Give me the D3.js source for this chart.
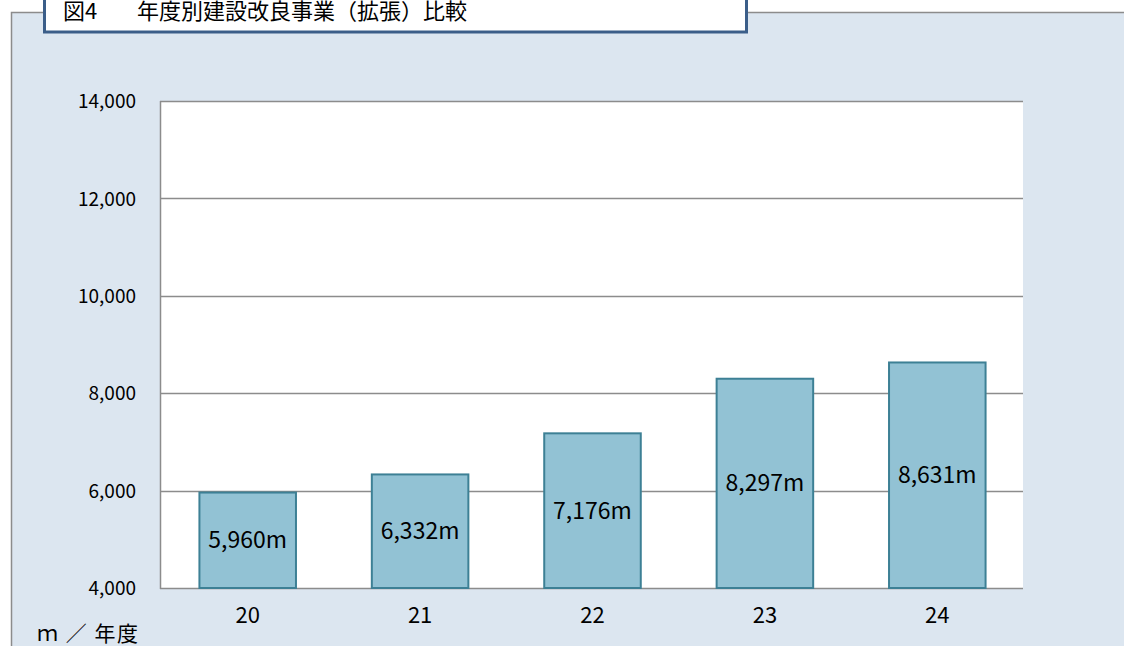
<!DOCTYPE html>
<html>
<head>
    <meta charset="utf-8">
    <script src="https://cdn.jsdelivr.net/npm/d3@7/dist/d3.min.js"></script>
    <style>
        body { margin: 0; background: #ffffff; }
        text { font-family: "Noto Sans CJK JP", "Noto Sans", sans-serif; fill: #000; }
    </style>
</head>
<body>
<div id="viz"></div>
<script type="text/javascript">

    // data
    var years = ["20", "21", "22", "23", "24"];
    var lengths = [5960, 6332, 7176, 8297, 8631];
    var yTicks = [4000, 6000, 8000, 10000, 12000, 14000];
    var title = "年度別建設改良事業（拡張）比較";
    var figNo = "図4";
    var unitLabel = "ｍ ／ 年度";

    var W = 1124, H = 646;
    var plot = { left: 160, right: 1023, top: 101, bottom: 588 };

    var svg = d3.select("#viz")
        .append("svg")
        .attr("width", W)
        .attr("height", H);

    // outer panel
    svg.append("rect")
        .attr("x", 11).attr("y", 12)
        .attr("width", W - 11).attr("height", H - 12)
        .style("fill", "#dce6f0");
    svg.append("path")
        .attr("d", "M11.5," + H + "V12.5H" + W)
        .style("fill", "none")
        .style("stroke", "#8c8c8c")
        .style("stroke-width", 1.5);

    // title box (top is cut off by the page edge, as in the original)
    svg.append("rect")
        .attr("x", 44.5).attr("y", -5)
        .attr("width", 702).attr("height", 37)
        .style("fill", "#fff")
        .style("stroke", "#3b5e89")
        .style("stroke-width", 3);
    svg.append("text")
        .attr("x", 63).attr("y", 19)
        .style("font-size", "22px")
        .text(figNo);
    svg.append("text")
        .attr("x", 137).attr("y", 19)
        .style("font-size", "22px")
        .text(title);

    var x = d3.scaleBand()
        .domain(years)
        .range([plot.left + 1.5, plot.right + 0.5])
        .paddingInner(0.44)
        .paddingOuter(0.22);

    var y = d3.scaleLinear()
        .domain([4000, 14000])
        .range([plot.bottom, plot.top]);

    // plot area
    svg.append("rect")
        .attr("x", plot.left).attr("y", plot.top)
        .attr("width", plot.right - plot.left)
        .attr("height", plot.bottom - plot.top)
        .style("fill", "#fff");

    // gridlines
    svg.append("g").selectAll("line")
        .data(yTicks)
        .enter().append("line")
        .attr("x1", plot.left).attr("x2", plot.right)
        .attr("y1", function(d) { return Math.round(y(d)) + 0.5; })
        .attr("y2", function(d) { return Math.round(y(d)) + 0.5; })
        .style("stroke", "#8c8c8c")
        .style("stroke-width", 1.5);

    svg.append("line")
        .attr("x1", plot.left + 0.5).attr("x2", plot.left + 0.5)
        .attr("y1", plot.top).attr("y2", plot.bottom + 1)
        .style("stroke", "#8c8c8c")
        .style("stroke-width", 1.5);

    // y axis labels
    var yAxis = d3.axisLeft(y)
        .tickValues(yTicks)
        .tickSize(0)
        .tickPadding(24)
        .tickFormat(d3.format(","));
    var gy = svg.append("g")
        .attr("transform", "translate(" + plot.left + ",0)")
        .call(yAxis);
    gy.select(".domain").remove();
    gy.selectAll("text")
        .style("font-size", "19px")
        .attr("dy", "0.35em");

    // x axis labels
    var xAxis = d3.axisBottom(x).tickSize(0).tickPadding(19);
    var gx = svg.append("g")
        .attr("transform", "translate(0," + plot.bottom + ")")
        .call(xAxis);
    gx.select(".domain").remove();
    gx.selectAll("text").style("font-size", "22px");

    // bars
    svg.append("g").selectAll("rect")
        .data(lengths)
        .enter().append("rect")
        .attr("x", function(d, i) { return x(years[i]); })
        .attr("y", function(d) { return y(d); })
        .attr("width", x.bandwidth())
        .attr("height", function(d) { return y(4000) - y(d); })
        .style("fill", "#92c2d4")
        .style("stroke", "#3d8095")
        .style("stroke-width", 2);

    // value labels, centred in each bar
    svg.append("g").selectAll("text")
        .data(lengths)
        .enter().append("text")
        .attr("x", function(d, i) { return x(years[i]) + x.bandwidth() / 2; })
        .attr("y", function(d) { return (y(d) + y(4000)) / 2; })
        .attr("text-anchor", "middle")
        .attr("dy", "0.35em")
        .style("font-size", "23px")
        .text(function(d) { return d3.format(",")(d) + "m"; });

    // unit label
    svg.append("text")
        .attr("x", 37).attr("y", 641)
        .style("font-size", "21px")
        .style("letter-spacing", "1.5px")
        .text(unitLabel);

</script>
</body>
</html>
